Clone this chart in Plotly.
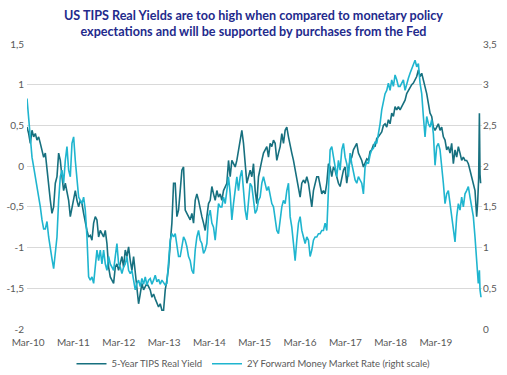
import pandas as pd
import plotly.graph_objects as go

# 5-Year TIPS real yield (left axis, %), sampled roughly every two weeks from the picture
tips_vals = [
    0.48,0.40,0.28,0.44,0.36,0.40,0.32,0.36,0.28,0.20,0.11,0.16,-0.05,-0.30,-0.42,-0.58,-0.50,-0.21,-0.13,0.16,
    0.07,-0.13,-0.30,-0.21,-0.30,-0.42,-0.62,-0.50,-0.38,-0.30,-0.42,-0.50,-0.42,-0.46,-0.58,-0.70,-0.79,-0.87,-0.85,-0.91,
    -0.70,-0.62,-0.66,-0.87,
    -0.79,-0.83,-0.87,-0.79,-0.95,-1.24,-1.36,-1.40,-1.44,-1.24,-1.20,-1.28,-1.20,-1.11,-1.24,-1.03,-1.11,-0.99,-1.16,-1.28,
    -1.11,-1.32,-1.52,-1.69,-1.57,-1.44,-1.52,-1.48,-1.44,-1.48,-1.52,-1.61,-1.57,-1.63,-1.69,-1.73,-1.69,-1.77,-1.77,-1.52,
    -1.40,-1.24,-0.95,-0.70,-0.21,
    -0.21,-0.62,-0.54,-0.30,-0.05,-0.01,-0.54,-0.58,-0.62,-0.66,-0.58,-0.70,-0.42,-0.34,-0.42,-0.54,-0.62,-0.70,-0.79,-0.62,
    -0.46,-0.42,-0.25,-0.34,-0.42,-0.30,-0.38,-0.34,-0.42,-0.30,-0.25,-0.21,0.07,-0.13,0.07,0.03,-0.01,0.07,0.20,0.32,
    0.44,0.28,0.03,-0.21,-0.13,
    -0.05,-0.13,0.03,-0.30,-0.46,-0.13,-0.01,0.07,0.16,0.20,0.24,0.11,0.28,0.24,0.32,0.28,0.07,0.16,0.24,0.40,
    0.28,0.44,0.48,0.36,0.24,0.16,0.07,-0.05,-0.13,-0.30,-0.38,-0.21,-0.17,-0.21,-0.13,-0.21,-0.38,-0.50,-0.30,-0.21,
    -0.13,-0.13,-0.25,-0.34,-0.30,
    -0.34,-0.21,0.03,-0.01,-0.13,-0.01,-0.05,-0.13,-0.21,-0.25,-0.13,-0.05,-0.01,-0.21,-0.05,0.07,0.11,0.20,0.24,0.28,
    0.16,0.11,0.07,-0.01,0.03,0.09,0.07,0.18,0.20,0.26,0.24,0.34,0.36,0.40,0.42,0.50,0.52,0.48,0.57,0.52,
    0.65,0.61,0.73,0.69,0.73,
    0.69,0.73,0.77,0.81,0.89,0.93,0.98,1.00,1.02,1.06,1.10,1.18,1.10,1.14,1.06,0.98,0.89,0.77,0.65,0.61,
    0.48,0.44,0.48,0.52,0.44,0.48,0.36,0.32,0.20,0.24,0.16,0.28,0.03,0.20,0.11,0.24,0.16,0.07,0.11,0.07,
    0.07,0.03,-0.05,-0.13,-0.21,-0.30,-0.62,
]
tips_tail_dates = ["2020-02-01", "2020-02-09", "2020-02-15", "2020-02-20", "2020-02-25"]
tips_tail_vals = [-0.45, -0.15, 0.65, -0.10, -0.21]

# 2Y forward money market rate (right axis, %)
fwd_vals = [
    2.83,2.57,2.40,2.11,1.99,1.87,1.79,1.66,1.50,1.34,1.23,1.23,1.32,1.13,0.97,0.86,0.74,0.93,1.13,1.58,
    1.87,1.95,1.79,2.07,2.24,1.95,1.87,2.28,2.36,2.07,1.79,1.62,1.58,1.54,1.62,1.46,1.13,0.64,0.60,0.64,
    0.56,0.76,0.97,0.84,
    0.97,0.80,0.97,0.80,0.72,0.89,0.80,0.76,0.72,0.89,1.05,0.80,0.76,0.68,0.76,0.80,0.89,0.72,0.68,0.72,
    0.60,0.48,0.56,0.60,0.52,0.62,0.55,0.64,0.54,0.60,0.62,0.55,0.60,0.66,0.58,0.61,0.55,0.60,0.57,0.54,
    0.56,0.89,1.09,1.17,1.13,
    1.17,1.05,0.89,0.89,1.01,1.13,1.09,1.01,0.89,0.84,0.72,0.68,0.97,1.13,1.21,1.09,1.05,0.93,0.97,1.05,
    1.38,1.46,1.30,1.25,1.09,1.38,1.54,1.50,1.50,1.62,1.54,1.70,1.87,1.66,1.34,1.54,1.70,1.87,1.70,1.87,
    1.95,1.70,1.46,1.34,1.62,
    1.79,1.75,1.58,1.42,1.46,1.58,1.62,1.79,1.87,1.79,1.70,1.75,1.62,1.54,1.50,1.34,1.21,1.17,1.38,1.50,
    1.58,1.54,1.70,1.79,1.38,1.25,1.05,0.84,1.09,1.30,1.38,1.21,1.13,1.05,1.13,1.09,0.89,0.97,1.09,1.13,
    1.13,1.17,1.17,1.21,1.21,
    1.30,1.21,1.66,2.20,2.24,2.11,1.99,1.87,2.07,1.95,2.20,2.28,2.11,2.03,1.87,2.16,2.03,1.91,1.83,1.79,
    1.87,1.83,1.79,1.66,1.99,2.05,2.03,2.14,2.20,2.22,2.30,2.28,2.38,2.52,2.69,2.81,2.89,2.93,3.02,2.93,
    3.06,2.98,3.12,3.06,2.98,
    2.98,3.02,3.06,2.93,3.02,3.08,3.14,3.20,3.26,3.30,3.22,3.26,3.02,2.89,2.61,2.36,2.61,2.52,2.48,2.57,
    2.40,2.01,2.24,2.28,2.20,2.03,1.79,1.54,1.66,1.70,1.54,1.38,1.21,1.07,1.38,1.54,1.46,1.62,1.50,1.66,
    1.70,1.75,1.62,1.50,1.38,1.13,0.80,
]
fwd_tail_dates = ["2020-02-06", "2020-02-15", "2020-02-20", "2020-02-28"]
fwd_tail_vals = [0.56, 0.72, 0.48, 0.39]

series_start = "2010-02-20"
series_end = "2020-01-24"

x_tick_years = list(range(2010, 2020))
x_tick_vals = [f"{y}-03-01" for y in x_tick_years]
x_tick_text = [f"Mar-{y % 100:02d}" for y in x_tick_years]

left_ticks = [-2, -1.5, -1, -0.5, 0, 0.5, 1, 1.5]
left_text = ["-2", "-1,5", "-1", "-0,5", "0", "0,5", "1", "1,5"]
right_ticks = [0, 0.5, 1, 1.5, 2, 2.5, 3, 3.5]
right_text = ["0", "0,5", "1", "1,5", "2", "2,5", "3", "3,5"]

tips_dates = list(pd.date_range(series_start, series_end, periods=len(tips_vals))) + list(pd.to_datetime(tips_tail_dates))
fwd_dates = list(pd.date_range(series_start, series_end, periods=len(fwd_vals))) + list(pd.to_datetime(fwd_tail_dates))

DARK = "#17707f"
LIGHT = "#1fb5cf"
GRAY = "#595959"
FONT = "Lato"

fig = go.Figure()
fig.add_trace(go.Scatter(
    x=tips_dates, y=tips_vals + tips_tail_vals, name="5-Year TIPS Real Yield",
    mode="lines", line=dict(color=DARK, width=1.6), yaxis="y",
))
fig.add_trace(go.Scatter(
    x=fwd_dates, y=fwd_vals + fwd_tail_vals, name="2Y Forward Money Market Rate (right scale)",
    mode="lines", line=dict(color=LIGHT, width=1.6), yaxis="y2",
))

fig.update_layout(
    width=507, height=375,
    margin=dict(l=27, r=25, t=44, b=46, autoexpand=False),
    paper_bgcolor="white", plot_bgcolor="white",
    font=dict(family=FONT, color=GRAY, size=10),
    title=dict(
        text="<b>US TIPS Real Yields are too high when compared to monetary policy<br>expectations and will be supported by purchases from the Fed</b>",
        x=0.5, xanchor="center", y=0.948, yanchor="middle", yref="container",
        font=dict(family=FONT, size=12.6, color="#232a8c"),
    ),
    xaxis=dict(
        type="date", range=["2010-02-20", "2020-03-07"],
        tickvals=x_tick_vals, ticktext=x_tick_text,
        showgrid=False, zeroline=False, showline=False, ticks="",
        tickfont=dict(size=10, color=GRAY), ticklabelstandoff=6, automargin=False,
    ),
    yaxis=dict(
        range=[-2, 1.5], tickvals=left_ticks, ticktext=left_text,
        showgrid=True, gridcolor="#d9d9d9", gridwidth=1, zeroline=False, showline=False,
        tickfont=dict(size=10, color=GRAY), ticks="", ticklabelstandoff=2,
        automargin=False,
    ),
    yaxis2=dict(
        range=[0, 3.5], tickvals=right_ticks, ticktext=right_text,
        overlaying="y", side="right", showgrid=False, zeroline=False, showline=False,
        tickfont=dict(size=10, color=GRAY), ticks="",
        automargin=False,
    ),
    legend=dict(
        orientation="h", x=0.5, xanchor="center", xref="container",
        y=0.03, yanchor="middle", yref="container",
        font=dict(size=9.5, color=GRAY), itemwidth=30, bgcolor="rgba(0,0,0,0)",
    ),
    showlegend=True,
)

fig.write_html(
    "out.html",
    config={"displayModeBar": False},
    post_script="document.body.style.margin='0px';",
)
